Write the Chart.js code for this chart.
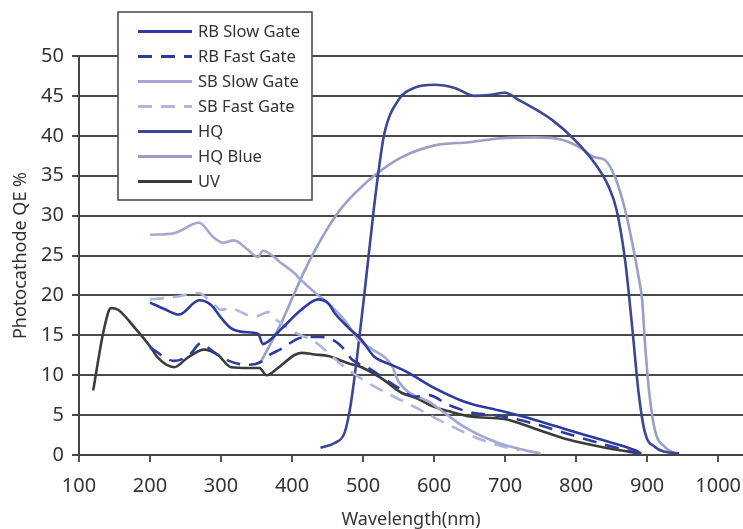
<!DOCTYPE html>
<html lang="en">
<head>
<meta charset="UTF-8">
<title>Photocathode QE</title>
<script src="https://cdn.jsdelivr.net/npm/chart.js"></script>
<style>
  html, body { margin: 0; padding: 0; background: #fff; }
  #wrap { width: 743px; height: 529px; }
</style>
</head>
<body>
<div id="wrap"><canvas id="qeChart" width="743" height="529"></canvas></div>
<script>
  // wavelength (nm) / QE (%), one pair per curve
  const rbSlowWl = [200, 220, 241, 269, 286, 300, 314, 333, 352, 359, 366, 385, 413, 437, 451, 460, 479, 498, 516, 540, 564, 596, 639, 653, 695, 742, 790, 836, 883, 892];
  const rbSlowQe = [19.1, 18.3, 17.6, 19.4, 18.8, 17.2, 15.9, 15.4, 15.2, 13.9, 14.2, 15.8, 18.2, 19.5, 19.0, 17.8, 16.0, 14.4, 12.3, 11.3, 10.3, 8.6, 6.8, 6.4, 5.5, 4.4, 3.1, 1.9, 0.6, 0.2];

  const rbFastWl = [200, 234, 255, 272, 281, 290, 314, 338, 357, 366, 385, 413, 441, 460, 474, 484, 508, 526, 550, 573, 592, 620, 649, 699, 742, 790, 836, 888];
  const rbFastQe = [13.5, 11.8, 12.5, 14.0, 13.5, 12.9, 11.7, 11.3, 11.7, 12.4, 13.3, 14.7, 14.8, 14.3, 13.2, 12.0, 10.9, 9.8, 8.4, 7.3, 7.5, 6.3, 5.4, 4.8, 3.9, 2.6, 1.4, 0.2];

  const sbSlowWl = [200, 234, 269, 289, 303, 318, 338, 352, 359, 384, 403, 413, 437, 451, 474, 493, 512, 540, 550, 596, 643, 691, 728, 750];
  const sbSlowQe = [27.6, 27.8, 29.1, 27.3, 26.6, 26.9, 25.7, 24.8, 25.6, 24.1, 22.8, 21.9, 20.0, 19.0, 16.9, 14.5, 13.3, 11.3, 9.2, 6.5, 3.5, 1.5, 0.6, 0.2];

  const sbFastWl = [200, 234, 268, 286, 300, 314, 328, 347, 366, 380, 403, 432, 451, 474, 508, 526, 573, 620, 667, 705, 720];
  const sbFastQe = [19.5, 19.8, 20.3, 19.2, 18.2, 18.4, 17.9, 17.3, 17.9, 16.8, 15.4, 14.2, 12.8, 11.0, 9.0, 8.1, 6.0, 3.8, 1.9, 0.9, 0.6];

  const hqWl = [440, 460, 474, 482, 491, 502, 515, 522, 530, 550, 572, 601, 629, 657, 677, 700, 719, 766, 798, 826, 846, 857, 869, 879, 888, 897, 911, 925, 945];
  const hqQe = [0.9, 1.5, 2.8, 6.0, 11.9, 20.3, 30.7, 35.7, 40.3, 44.5, 46.0, 46.4, 46.0, 45.0, 45.1, 45.4, 44.5, 42.0, 39.5, 36.6, 33.6, 30.7, 24.4, 16.0, 7.8, 2.8, 1.0, 0.4, 0.2];

  const hqBlueWl = [355, 370, 385, 400, 415, 432, 450, 470, 493, 520, 554, 601, 649, 695, 742, 780, 804, 826, 840, 855, 869, 879, 888, 893, 897, 903, 911, 925, 939];
  const hqBlueQe = [11.5, 14.0, 16.6, 19.6, 22.6, 25.6, 28.4, 31.0, 33.2, 35.3, 37.3, 38.8, 39.2, 39.7, 39.8, 39.5, 38.6, 37.3, 37.0, 34.8, 30.7, 26.6, 22.3, 19.4, 14.0, 7.8, 3.1, 1.0, 0.25];

  const uvWl = [120, 135, 145, 155, 178, 201, 211, 234, 253, 276, 296, 314, 338, 354, 364, 380, 403, 413, 432, 451, 479, 498, 526, 554, 573, 601, 620, 653, 699, 742, 790, 836, 888];
  const uvQe = [8.1, 15.7, 18.4, 18.2, 16.0, 13.5, 12.2, 11.0, 12.2, 13.2, 12.5, 11.0, 10.9, 10.9, 10.0, 10.9, 12.5, 12.8, 12.6, 12.4, 11.5, 11.0, 9.6, 7.8, 7.2, 6.0, 5.5, 4.8, 4.5, 3.3, 1.9, 1.0, 0.2];

  const seriesNames = ['RB Slow Gate', 'RB Fast Gate', 'SB Slow Gate', 'SB Fast Gate', 'HQ', 'HQ Blue', 'UV'];
  const xTicks = [100, 200, 300, 400, 500, 600, 700, 800, 900, 1000];
  const yTicks = [0, 5, 10, 15, 20, 25, 30, 35, 40, 45, 50];

  function pts(wl, qe) {
    return wl.map((w, i) => ({ x: w, y: qe[i] }));
  }

  const styles = [
    { color: '#2c3b9e', dash: [] },
    { color: '#2c3b9e', dash: [14, 9] },
    { color: '#a4a7d0', dash: [] },
    { color: '#b1b4dc', dash: [14, 9] },
    { color: '#3b4792', dash: [] },
    { color: '#9c9ec6', dash: [] },
    { color: '#383d3c', dash: [] }
  ];
  const seriesData = [
    pts(rbSlowWl, rbSlowQe),
    pts(rbFastWl, rbFastQe),
    pts(sbSlowWl, sbSlowQe),
    pts(sbFastWl, sbFastQe),
    pts(hqWl, hqQe),
    pts(hqBlueWl, hqBlueQe),
    pts(uvWl, uvQe)
  ];

  // legend drawn inside the plot, boxed, like the original
  const boxLegend = {
    id: 'boxLegend',
    beforeDatasetsDraw(chart) {
      const ctx = chart.ctx;
      ctx.save();
      ctx.fillStyle = '#fff';
      ctx.fillRect(118, 12, 194, 188);
      ctx.strokeStyle = '#444';
      ctx.lineWidth = 1.5;
      ctx.strokeRect(118, 12, 194, 188);
      ctx.font = '16.5px "Noto Sans", sans-serif';
      ctx.textBaseline = 'middle';
      chart.data.datasets.forEach((ds, i) => {
        const y = 31.5 + i * 25;
        ctx.beginPath();
        ctx.setLineDash(ds.borderDash || []);
        ctx.strokeStyle = ds.borderColor;
        ctx.lineWidth = 3;
        ctx.moveTo(138, y);
        ctx.lineTo(192, y);
        ctx.stroke();
        ctx.setLineDash([]);
        ctx.fillStyle = '#333';
        ctx.fillText(ds.label, 198, y + 1);
      });
      ctx.restore();
    }
  };

  const ctx = document.getElementById('qeChart').getContext('2d');
  new Chart(ctx, {
    type: 'line',
    data: {
      datasets: seriesNames.map((name, i) => ({
        label: name,
        data: seriesData[i],
        borderColor: styles[i].color,
        borderDash: styles[i].dash,
        borderWidth: 2.6,
        pointRadius: 0,
        cubicInterpolationMode: 'monotone',
        fill: false
      }))
    },
    options: {
      responsive: false,
      animation: false,
      devicePixelRatio: 1,
      layout: { padding: { top: 56, right: 0, left: 0, bottom: 0 } },
      plugins: {
        legend: { display: false },
        tooltip: { enabled: false }
      },
      scales: {
        x: {
          type: 'linear',
          min: 100,
          max: 1035,
          afterBuildTicks: s => { s.ticks = xTicks.map(v => ({ value: v })); },
          afterFit: s => { s.height = 74; s.paddingRight = 0; s.paddingLeft = 0; },
          ticks: {
            color: '#333',
            padding: 12,
            callback: v => String(v),
            font: { family: '"Noto Sans", sans-serif', size: 20 }
          },
          grid: { display: true, drawOnChartArea: false, color: '#555', lineWidth: 2, tickLength: 7 },
          border: { display: true, color: '#444', width: 2 },
          title: {
            display: true,
            text: 'Wavelength(nm)',
            color: '#333',
            font: { family: '"Noto Sans", sans-serif', size: 18, lineHeight: 1.0 },
            padding: { top: 0, bottom: 0 }
          }
        },
        y: {
          min: 0,
          max: 50,
          afterBuildTicks: s => { s.ticks = yTicks.map(v => ({ value: v })); },
          afterFit: s => { s.width = 79; },
          ticks: {
            color: '#333',
            padding: 8,
            font: { family: '"Noto Sans", sans-serif', size: 20 }
          },
          grid: { display: true, color: '#4a4a4a', lineWidth: 2, tickLength: 7 },
          border: { display: true, color: '#444', width: 2 },
          title: {
            display: true,
            text: 'Photocathode QE %',
            color: '#333',
            font: { family: '"Noto Sans", sans-serif', size: 18 },
            padding: { top: 10, bottom: 0 }
          }
        }
      }
    },
    plugins: [boxLegend]
  });
</script>
</body>
</html>
